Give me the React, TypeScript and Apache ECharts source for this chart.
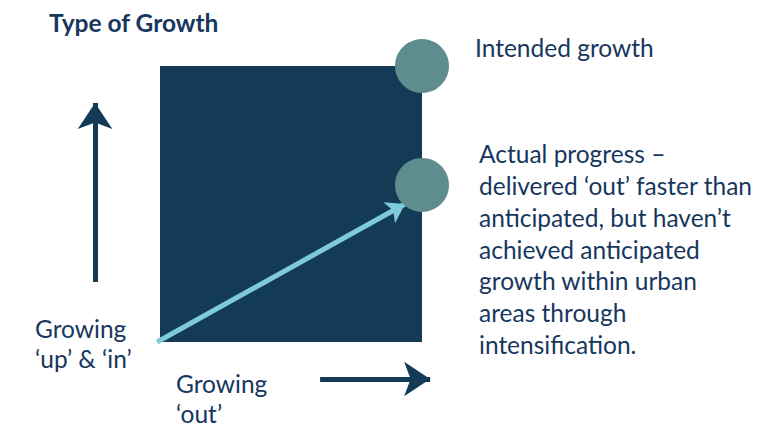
import React, { useEffect, useRef } from "react";
import * as echarts from "echarts";

// Diagram values (unit square: x = growing 'out', y = growing 'up' & 'in')
const squareArea = [[0, 0], [1, 1]];
const circlePoints = [
  { name: "Intended growth", value: [1.0, 1.0] },
  { name: "Actual progress", value: [1.0, 0.569] },
];
const progressArrow = [[-0.011, 0.0], [0.935, 0.5]];
const upArrow = [[-0.248, 0.217], [-0.248, 0.866]];
const outArrow = [[0.611, -0.134], [1.031, -0.134]];

const titleText = "Type of Growth";
const intendedLabel = "Intended growth";
const actualLines = [
  "Actual progress –",
  "delivered ‘out’ faster than",
  "anticipated, but haven’t",
  "achieved anticipated",
  "growth within urban",
  "areas through",
  "intensification.",
];
const upLabel = ["Growing", "‘up’ & ‘in’"];
const outLabel = ["Growing", "‘out’"];

const NAVY = "#133b55";
const TEXT = "#17375e";
const TEAL = "#5f8c8e";
const LIGHT = "#7fcad8";
const FONT = "Lato, 'Open Sans', sans-serif";

export default function App() {
  const ref = useRef<HTMLDivElement>(null);
  useEffect(() => {
    document.body.style.margin = "0";
    if (!ref.current) return;
    const chart = echarts.init(ref.current, null, { renderer: "svg" });
    const textEl = (text: string, x: number, y: number, size: number, weight = "normal", lh = 32) => ({
      type: "text",
      x,
      y,
      z: 10,
      style: {
        text,
        fill: TEXT,
        font: `${weight} ${size}px ${FONT}`,
        lineHeight: lh,
        align: "left",
        verticalAlign: "middle",
      },
    });
    chart.setOption({
      animation: false,
      grid: { left: 160, top: 66, width: 262, height: 276 },
      xAxis: { type: "value", min: 0, max: 1, show: false },
      yAxis: { type: "value", min: 0, max: 1, show: false },
      series: [
        {
          type: "scatter",
          z: 1,
          data: [],
          markArea: {
            silent: true,
            itemStyle: { color: NAVY, opacity: 1 },
            data: [[{ coord: squareArea[0] }, { coord: squareArea[1] }]],
          },
        },
        {
          type: "lines",
          coordinateSystem: "cartesian2d",
          z: 3,
          clip: false,
          symbol: ["none", "arrow"],
          symbolSize: 18,
          lineStyle: { color: LIGHT, width: 5, opacity: 1 },
          data: [{ coords: progressArrow }],
        },
        {
          type: "lines",
          coordinateSystem: "cartesian2d",
          z: 3,
          clip: false,
          symbol: ["none", "arrow"],
          symbolSize: 26,
          lineStyle: { color: NAVY, width: 5, opacity: 1 },
          data: [{ coords: upArrow }, { coords: outArrow }],
        },
        {
          type: "scatter",
          z: 4,
          clip: false,
          symbol: "circle",
          symbolSize: 54,
          itemStyle: { color: TEAL, opacity: 1 },
          data: circlePoints,
        },
      ],
      graphic: [
        textEl(titleText, 49, 22, 24.5, "bold"),
        textEl(intendedLabel, 475, 47, 24.5),
        textEl(actualLines.join("\n"), 479, 249, 24.5, "normal", 31.7),
        textEl(upLabel.join("\n"), 35, 343, 24.5, "normal", 30),
        textEl(outLabel.join("\n"), 176, 398, 24.5, "normal", 30),
      ],
    });
    return () => chart.dispose();
  }, []);
  return <div ref={ref} style={{ width: 780, height: 426 }} />;
}
